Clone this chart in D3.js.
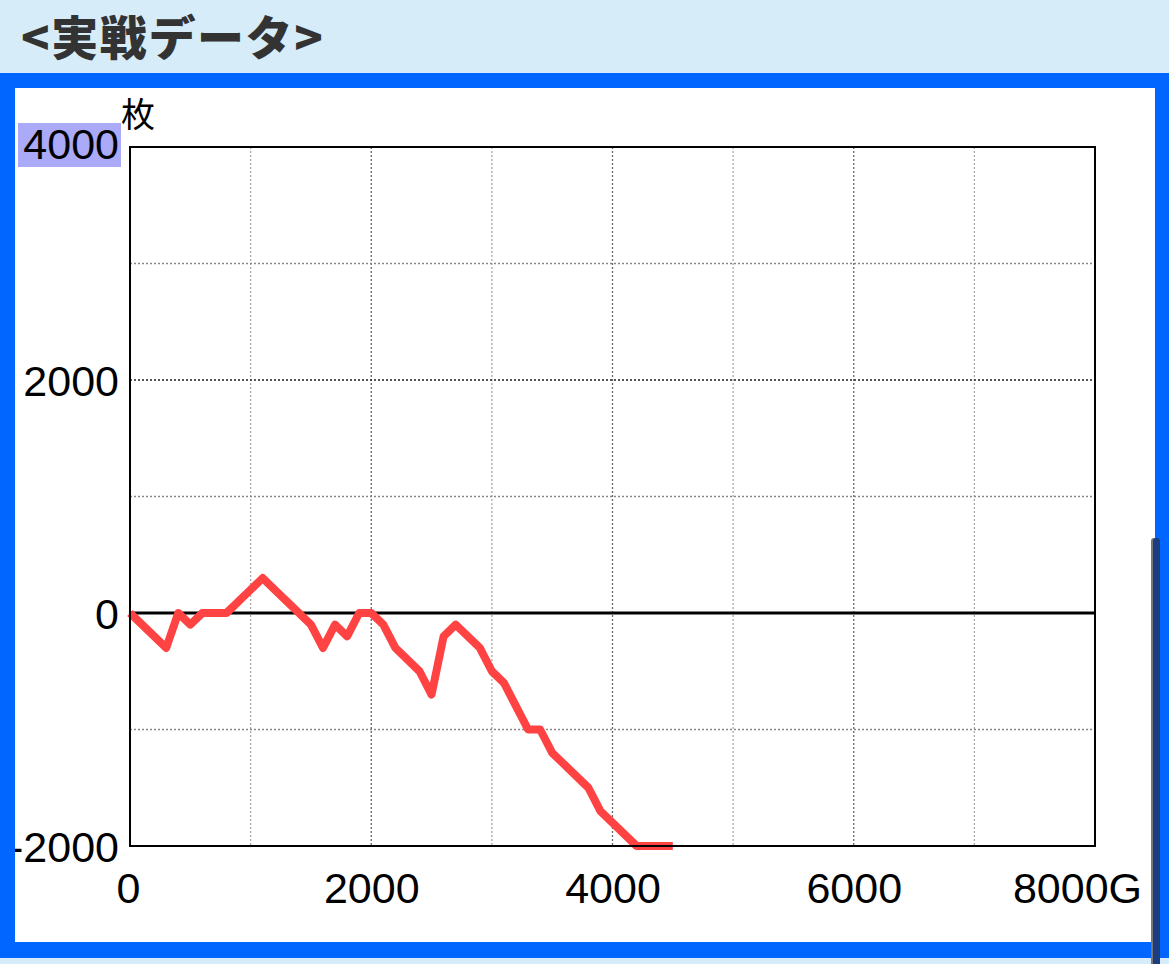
<!DOCTYPE html>
<html>
<head>
<meta charset="utf-8">
<script src="https://cdn.jsdelivr.net/npm/d3@7"></script>
<style>
  html, body { margin: 0; padding: 0; background: #d7ecf9; }
  svg { display: block; }
</style>
</head>
<body>
<svg id="chart" width="1169" height="964"></svg>
<script>
// ---- data ----
const title = "<実戦データ>";
const yUnit = "枚";
const games = [0, 300, 400, 500, 600, 800, 1100, 1500, 1600, 1700, 1800, 1900, 2000, 2100, 2200, 2400, 2500, 2600, 2700, 2900, 3000, 3100, 3300, 3400, 3500, 3800, 3900, 4200, 4500];
const coins = [0, -300, 0, -100, 0, 0, 300, -100, -300, -100, -200, 0, 0, -100, -300, -500, -700, -200, -100, -300, -500, -600, -1000, -1000, -1200, -1500, -1700, -2000, -2000];
const xTickValues = [0, 2000, 4000, 6000, 8000];
const xTickLabels = ["0", "2000", "4000", "6000", "8000G"];
const yTickValues = [-2000, 0, 2000, 4000];
const yTickLabels = ["-2000", "0", "2000", "4000"];
const xGridValues = [1000, 2000, 3000, 4000, 5000, 6000, 7000];
const yGridValues = [-1000, 1000, 2000, 3000];

const svg = d3.select("#chart");
const W = 1169, H = 964;

// page chrome
svg.append("rect").attr("x", 0).attr("y", 0).attr("width", W).attr("height", H).attr("fill", "#d7ecf9");
svg.append("text").attr("x", 21).attr("y", 55)
  .attr("font-family", "'Noto Sans CJK JP', 'Noto Sans', sans-serif")
  .attr("font-weight", "900").attr("font-size", 47).attr("letter-spacing", 1.6).attr("fill", "#333")
  .text(title);
svg.append("rect").attr("x", 0).attr("y", 73).attr("width", W).attr("height", 885).attr("fill", "#0066ff");
svg.append("rect").attr("x", 15).attr("y", 88).attr("width", 1140).attr("height", 854).attr("fill", "#ffffff");
// scrollbar
svg.append("rect").attr("x", 1151).attr("y", 538).attr("width", 9).attr("height", 440).attr("rx", 3).attr("fill", "#777");
svg.append("rect").attr("x", 1153).attr("y", 538).attr("width", 7).attr("height", 440).attr("rx", 3).attr("fill", "#1c3c80");

svg.append("clipPath").attr("id", "inner")
  .append("rect").attr("x", 15).attr("y", 88).attr("width", 1140).attr("height", 854);

const g = svg.append("g").attr("clip-path", "url(#inner)");

const pLeft = 130, pRight = 1095, pTop = 147, pBottom = 846;
const x = d3.scaleLinear().domain([0, 8000]).range([pLeft, pRight]);
const y = d3.scaleLinear().domain([-2000, 4000]).range([pBottom, pTop]);

// grid
g.selectAll(".vgrid").data(xGridValues).join("line")
  .attr("x1", d => x(d)).attr("x2", d => x(d)).attr("y1", pTop).attr("y2", pBottom)
  .attr("stroke", d => d % 2000 === 0 ? "#666" : "#aaa")
  .attr("stroke-width", 1.3).attr("stroke-dasharray", "2,2");
g.selectAll(".hgrid").data(yGridValues).join("line")
  .attr("x1", pLeft).attr("x2", pRight).attr("y1", d => y(d)).attr("y2", d => y(d))
  .attr("stroke", d => d === 2000 ? "#222" : "#888")
  .attr("stroke-width", 1.3).attr("stroke-dasharray", "2,2");

// zero line
g.append("line").attr("x1", pLeft).attr("x2", pRight).attr("y1", y(0)).attr("y2", y(0))
  .attr("stroke", "#000").attr("stroke-width", 3);

// data line
const pts = games.map((gm, i) => [gm, coins[i]]);
g.append("path").datum(pts)
  .attr("fill", "none").attr("stroke", "#ff4242").attr("stroke-width", 8)
  .attr("stroke-linejoin", "round").attr("stroke-linecap", "butt")
  .attr("d", d3.line().x(d => x(d[0])).y(d => y(d[1])));

// frame
g.append("rect").attr("x", pLeft).attr("y", pTop).attr("width", pRight - pLeft).attr("height", pBottom - pTop)
  .attr("fill", "none").attr("stroke", "#000").attr("stroke-width", 2);

// highlight behind 4000
g.append("rect").attr("x", 18).attr("y", 123).attr("width", 103).attr("height", 44).attr("fill", "#aaaaf8");

const font = "Helvetica, 'Liberation Sans', Arial, sans-serif";

// y axis
const yAxis = d3.axisLeft(y).tickValues(yTickValues).tickSize(0).tickPadding(0)
  .tickFormat((d, i) => yTickLabels[i]);
const ya = g.append("g").attr("transform", `translate(${pLeft - 11},0)`).call(yAxis);
ya.select(".domain").remove();
ya.selectAll("text").attr("font-family", font).attr("font-size", 43).attr("fill", "#000")
  .attr("x", 0)
  .attr("dy", d => d === 4000 ? "0.27em" : "0.35em");

// x axis
const xAxis = d3.axisBottom(x).tickValues(xTickValues).tickSize(0).tickPadding(0)
  .tickFormat((d, i) => xTickLabels[i]);
const xa = g.append("g").attr("transform", `translate(0,${pBottom})`).call(xAxis);
xa.select(".domain").remove();
xa.selectAll("text").attr("font-family", font).attr("font-size", 43).attr("fill", "#000")
  .attr("y", 0).attr("dy", "1.33em")
  .attr("dx", d => d === 8000 ? -18 : (d === 0 ? -2 : 0));

// unit label
g.append("text").attr("x", 121).attr("y", 127)
  .attr("font-family", "'Noto Sans CJK JP', sans-serif").attr("font-size", 34).attr("fill", "#000")
  .text(yUnit);
</script>
</body>
</html>
